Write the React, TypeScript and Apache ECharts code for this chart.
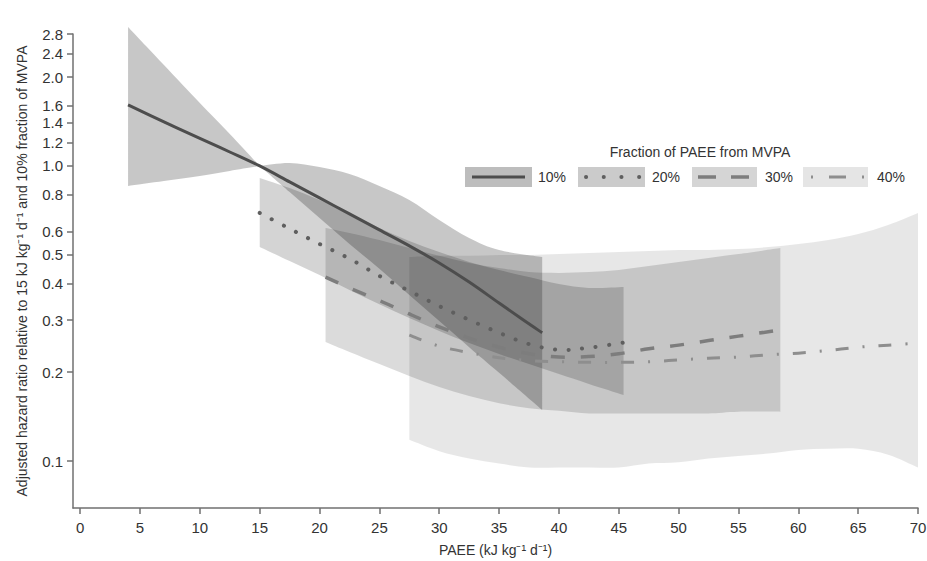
import React, { useEffect, useRef } from "react";
import * as echarts from "echarts";

const FONT = "'Liberation Sans', Arial, Helvetica, sans-serif";

// Axis ticks
const X_TICKS = [0, 5, 10, 15, 20, 25, 30, 35, 40, 45, 50, 55, 60, 65, 70];
const Y_TICKS = [0.1, 0.2, 0.3, 0.4, 0.5, 0.6, 0.8, 1.0, 1.2, 1.4, 1.6, 2.0, 2.4, 2.8];
const Y_MIN = 0.0693;
const Y_MAX = 2.8;

// 10% fraction of PAEE from MVPA
const X10 = [4, 7, 10, 12.5, 15, 17.5, 20, 22.5, 25, 27.5, 30, 32.5, 35, 37, 38.6];
const HR10 = [1.61, 1.41, 1.24, 1.115, 1.0, 0.883, 0.779, 0.688, 0.607, 0.536, 0.469, 0.404, 0.343, 0.301, 0.272];
const BX10A = [4, 7, 10, 12.5, 15];
const LO10A = [0.855, 0.889, 0.925, 0.962, 1.0];
const HI10A = [2.96, 2.2, 1.635, 1.284, 1.0];
const BX10B = [15, 17.5, 20, 22.5, 25, 27.5, 30, 32.5, 35, 38.6];
const LO10B = [1.0, 0.816, 0.666, 0.544, 0.448, 0.365, 0.298, 0.243, 0.199, 0.149];
const HI10B = [1.0, 1.024, 0.992, 0.939, 0.855, 0.767, 0.656, 0.57, 0.519, 0.491];

// 20%
const X20 = [15, 17.5, 20, 22.5, 25, 27.5, 30, 32.5, 35, 37.5, 40, 42.5, 45.4];
const HR20 = [0.693, 0.613, 0.544, 0.485, 0.424, 0.377, 0.335, 0.301, 0.272, 0.249, 0.238, 0.242, 0.252];
const LO20 = [0.531, 0.476, 0.427, 0.38, 0.34, 0.305, 0.276, 0.251, 0.2305, 0.213, 0.197, 0.1824, 0.1674];
const HI20 = [0.911, 0.842, 0.767, 0.688, 0.616, 0.557, 0.511, 0.473, 0.444, 0.42, 0.398, 0.386, 0.389];

// 30%
const X30 = [20.5, 22.5, 25, 27.5, 30, 32.5, 35, 37.5, 40, 42.5, 45, 47.5, 50, 52.5, 55, 58.5];
const HR30 = [0.42, 0.386, 0.35, 0.315, 0.285, 0.261, 0.243, 0.231, 0.225, 0.226, 0.231, 0.24, 0.247, 0.256, 0.265, 0.278];
const LO30 = [0.253, 0.234, 0.213, 0.194, 0.178, 0.166, 0.157, 0.151, 0.148, 0.145, 0.145, 0.145, 0.145, 0.145, 0.147, 0.147];
const HI30 = [0.616, 0.593, 0.561, 0.527, 0.496, 0.469, 0.451, 0.437, 0.434, 0.437, 0.444, 0.458, 0.473, 0.488, 0.503, 0.527];

// 40%
const X40 = [27.5, 30, 32.5, 35, 37.5, 40, 42.5, 45, 47.5, 50, 52.5, 55, 57.5, 60, 62.5, 65, 67.5, 70];
const HR40 = [0.267, 0.245, 0.233, 0.224, 0.219, 0.217, 0.216, 0.216, 0.217, 0.22, 0.223, 0.225, 0.229, 0.232, 0.237, 0.243, 0.247, 0.251];
const LO40 = [0.118, 0.108, 0.102, 0.098, 0.095, 0.095, 0.095, 0.095, 0.098, 0.099, 0.102, 0.104, 0.106, 0.109, 0.11, 0.11, 0.105, 0.095];
const HI40 = [0.491, 0.496, 0.496, 0.499, 0.499, 0.503, 0.507, 0.511, 0.515, 0.519, 0.519, 0.523, 0.531, 0.544, 0.561, 0.588, 0.631, 0.693];

const LEGEND_TITLE = "Fraction of PAEE from MVPA";
const LEGEND_LABELS = ["10%", "20%", "30%", "40%"];

const lg = (v: number) => Math.log10(v);

type Pt = number[];

// Catmull-Rom style smooth curve through pixel points, as cubic Bezier segments
function smoothSegments(pts: Pt[]): string {
  let d = "";
  for (let i = 0; i < pts.length - 1; i++) {
    const p0 = pts[i - 1] || pts[i];
    const p1 = pts[i];
    const p2 = pts[i + 1];
    const p3 = pts[i + 2] || pts[i + 1];
    const c1x = p1[0] + (p2[0] - p0[0]) / 6;
    const c1y = p1[1] + (p2[1] - p0[1]) / 6;
    const c2x = p2[0] - (p3[0] - p1[0]) / 6;
    const c2y = p2[1] - (p3[1] - p1[1]) / 6;
    d += ` C${c1x},${c1y} ${c2x},${c2y} ${p2[0]},${p2[1]}`;
  }
  return d;
}

const empty = { type: "group", children: [] };

function bandSeries(id: string, xs: number[], lo: number[], hi: number[], color: string) {
  return {
    type: "custom",
    name: id,
    silent: true,
    z: 1,
    data: xs.map((x, i) => [x, lg(lo[i]), lg(hi[i])]),
    encode: { x: 0, y: [1, 2] },
    renderItem: (params: any, api: any) => {
      if (params.dataIndex !== 0) return empty;
      const up = xs.map((x, i) => api.coord([x, lg(hi[i])]));
      const dn = xs.map((x, i) => api.coord([x, lg(lo[i])])).reverse();
      let d = `M${up[0][0]},${up[0][1]}` + smoothSegments(up);
      d += ` L${dn[0][0]},${dn[0][1]}` + smoothSegments(dn) + " Z";
      return { type: "path", shape: { pathData: d }, style: { fill: color } };
    },
  };
}

function lineSeries(name: string, xs: number[], ys: number[], stroke: any) {
  return {
    type: "custom",
    name,
    silent: true,
    z: 5,
    data: xs.map((x, i) => [x, lg(ys[i])]),
    encode: { x: 0, y: 1 },
    renderItem: (params: any, api: any) => {
      if (params.dataIndex !== 0) return empty;
      const pts = xs.map((x, i) => api.coord([x, lg(ys[i])]));
      const d = `M${pts[0][0]},${pts[0][1]}` + smoothSegments(pts);
      return { type: "path", shape: { pathData: d }, style: { fill: "none", ...stroke } };
    },
  };
}

export default function App() {
  const ref = useRef<HTMLDivElement>(null);

  useEffect(() => {
    if (!ref.current) return;
    const chart = echarts.init(ref.current, undefined, { renderer: "svg" });
    const axisColor = "#707070";
    const textColor = "#333";

    const legendY = 177;
    const boxes = [
      { x: 465, w: 67, fill: "#bdbdbd", tx: 538 },
      { x: 578, w: 67, fill: "#cbcbcb", tx: 652 },
      { x: 692, w: 65, fill: "#d5d5d5", tx: 765 },
      { x: 803, w: 65, fill: "#e5e5e5", tx: 877 },
    ];
    const graphic: any[] = [
      {
        type: "text",
        x: 700,
        y: 152,
        style: {
          text: LEGEND_TITLE,
          fill: textColor,
          font: `14px ${FONT}`,
          align: "center",
          verticalAlign: "middle",
        },
      },
    ];
    boxes.forEach((b, i) => {
      graphic.push({ type: "rect", shape: { x: b.x, y: 167, width: b.w, height: 20 }, style: { fill: b.fill } });
      graphic.push({
        type: "text",
        x: b.tx,
        y: legendY,
        style: { text: LEGEND_LABELS[i], fill: textColor, font: `14px ${FONT}`, align: "left", verticalAlign: "middle" },
      });
    });
    graphic.push({ type: "line", shape: { x1: 472, y1: legendY, x2: 525, y2: legendY }, style: { stroke: "#4d4d4d", lineWidth: 3 } });
    graphic.push({
      type: "line",
      shape: { x1: 586, y1: legendY, x2: 641, y2: legendY },
      style: { stroke: "#5f5f5f", lineWidth: 4, lineDash: [0.1, 17.6], lineCap: "round" },
    });
    graphic.push({
      type: "line",
      shape: { x1: 698, y1: legendY, x2: 750, y2: legendY },
      style: { stroke: "#7d7d7d", lineWidth: 3.5, lineDash: [18, 15] },
    });
    graphic.push({
      type: "line",
      shape: { x1: 811, y1: legendY, x2: 864, y2: legendY },
      style: { stroke: "#8e8e8e", lineWidth: 3, lineDash: [2, 16, 17, 16] },
    });

    const option: any = {
      animation: false,
      backgroundColor: "#fff",
      grid: { left: 73, right: 9, top: 34, bottom: 53, containLabel: false, outerBoundsMode: "none" },
      xAxis: {
        type: "value",
        min: -0.6,
        max: 70,
        axisLine: { show: true, onZero: false, lineStyle: { color: axisColor, width: 1.5 } },
        axisTick: { show: true, customValues: X_TICKS, length: 6, lineStyle: { color: axisColor, width: 1.5 } },
        axisLabel: { customValues: X_TICKS, color: textColor, fontSize: 15, fontFamily: FONT, margin: 12 },
        splitLine: { show: false },
        name: "PAEE (kJ kg\u207B\u00B9 d\u207B\u00B9)",
        nameLocation: "middle",
        nameGap: 35,
        nameTextStyle: { color: textColor, fontSize: 14, fontFamily: FONT },
      },
      yAxis: {
        type: "value",
        min: lg(Y_MIN),
        max: lg(Y_MAX),
        axisLine: { show: true, onZero: false, lineStyle: { color: axisColor, width: 1.5 } },
        axisTick: { show: true, customValues: Y_TICKS.map(lg), length: 6, lineStyle: { color: axisColor, width: 1.5 } },
        axisLabel: {
          customValues: Y_TICKS.map(lg),
          color: textColor,
          fontSize: 15,
          fontFamily: FONT,
          margin: 10,
          formatter: (v: number) => Math.pow(10, v).toFixed(1),
        },
        splitLine: { show: false },
        name: "Adjusted hazard ratio relative to 15 kJ kg\u207B\u00B9 d\u207B\u00B9 and 10% fraction of MVPA",
        nameLocation: "middle",
        nameGap: 44,
        nameTextStyle: { color: textColor, fontSize: 14, fontFamily: FONT },
      },
      series: [
        bandSeries("b40", X40, LO40, HI40, "rgba(0,0,0,0.095)"),
        bandSeries("b30", X30, LO30, HI30, "rgba(0,0,0,0.14)"),
        bandSeries("b20", X20, LO20, HI20, "rgba(0,0,0,0.17)"),
        bandSeries("b10a", BX10A, LO10A, HI10A, "rgba(0,0,0,0.22)"),
        bandSeries("b10b", BX10B, LO10B, HI10B, "rgba(0,0,0,0.22)"),
        lineSeries("40%", X40, HR40, { stroke: "#8e8e8e", lineWidth: 3, lineDash: [13, 14, 2, 14] }),
        lineSeries("30%", X30, HR30, { stroke: "#7d7d7d", lineWidth: 3.5, lineDash: [14, 16] }),
        lineSeries("20%", X20, HR20, { stroke: "#5f5f5f", lineWidth: 4, lineDash: [0.1, 13.5], lineCap: "round" }),
        lineSeries("10%", X10, HR10, { stroke: "#4d4d4d", lineWidth: 3 }),
      ],
      graphic,
    };
    chart.setOption(option);
    return () => chart.dispose();
  }, []);

  return <div ref={ref} style={{ position: "fixed", left: 0, top: 0, width: 927, height: 561 }} />;
}
